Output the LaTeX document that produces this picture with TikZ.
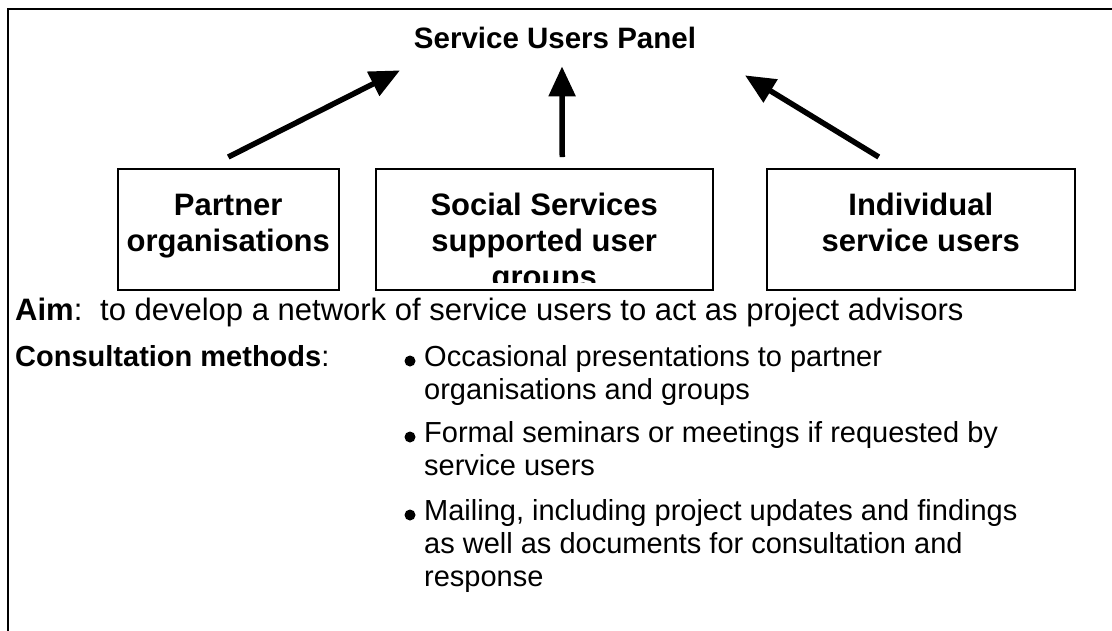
\documentclass[tikz,border=0pt]{standalone}
\usepackage{fontspec}
\setmainfont{Liberation Sans}
\usetikzlibrary{arrows.meta,calc}

\begin{document}
\begin{tikzpicture}[
    x = 1pt, y = -1pt,
    group/.style = {draw, line width = 1.5pt, minimum height = 121pt,
        inner sep = 0pt, anchor = north west},
    grouptext/.style = {align = center, inner sep = 0pt, anchor = base,
        font = \bfseries\fontsize{31}{36}\selectfont},
    link/.style = {line width = 5.5pt, -{Triangle[length = 30pt, width = 26pt]}},
    body/.style = {align = left, inner sep = 0pt, anchor = base west,
        font = \fontsize{29}{33}\selectfont}
]
    \useasboundingbox (0, 0) rectangle (1112, 630);

    % outer frame, runs off at the right and at the bottom
    \draw[line width = 2.5pt] (8, 640) -- (8, 9) -- (1120, 9);

    \node (panel) at (555, 38) {\bfseries\fontsize{29.5}{34}\selectfont Service Users Panel};

    \node (partner) [group, minimum width = 221pt] at (117, 168) {};
    \node (social) [group, minimum width = 337pt] at (375, 168) {};
    \node (individual) [group, minimum width = 308pt] at (766, 168) {};

    % base anchor sits on the last line
    \node[grouptext] at ($(partner.north) + (0, 83)$) {Partner\\organisations};
    \node[grouptext] at ($(individual.north) + (0, 83)$) {Individual\\service users};
    \begin{scope}
        \clip ($(social.south west) + (0, -8)$) rectangle (social.north east);
        \node[grouptext] at ($(social.north) + (0, 119)$)
            {Social Services\\supported user\\groups};
    \end{scope}

    \draw[link] ($(partner.north) + (0, -11)$) -- ($(panel.south) + (-155, 18)$);
    \draw[link] ($(social.north) + (18, -11)$) -- ($(panel.south) + (7, 14)$);
    \draw[link] ($(individual.north) + (-42, -11)$) -- ($(panel.south) + (190, 23)$);

    \node (aim) [body, font = \fontsize{31}{36}\selectfont] at (15, 320)
        {\makebox[85pt][l]{\textbf{Aim}:}to develop a network of service users to act as project advisors};
    \node (methods) [body] at (15, 366) {\textbf{Consultation methods}:};

    \node (occasional) [body] at (424, 399)
        {Occasional presentations to partner\\organisations and groups};
    \node (formal) [body] at (424, 475)
        {Formal seminars or meetings if requested by\\service users};
    \node (mailing) [body] at (424, 586)
        {Mailing, including project updates and findings\\as well as documents for consultation and\\response};

    \foreach \y in {366, 442, 520}
        \fill (410, \y - 5) circle (5.5pt);

\end{tikzpicture}
\end{document}
